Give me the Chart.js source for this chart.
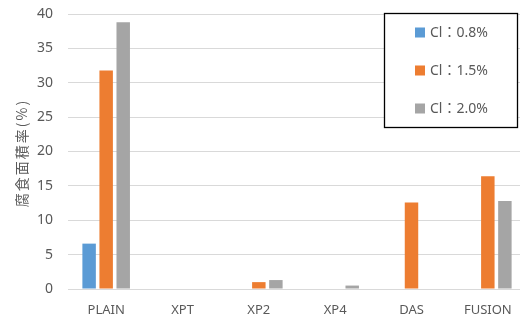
<!DOCTYPE html>
<html>
<head>
<meta charset="utf-8">
<script src="https://cdn.jsdelivr.net/npm/chart.js@4/dist/chart.umd.min.js"></script>
<style>
  html, body { margin: 0; padding: 0; background: #fff; overflow: hidden; }
  #wrap { position: relative; width: 526px; height: 320px; }
</style>
</head>
<body>
<div id="wrap"><canvas id="c"></canvas></div>
<script>
// Corrosion area ratio by coating type and chloride content
const categories = ['PLAIN', 'XPT', 'XP2', 'XP4', 'DAS', 'FUSION'];
const seriesNames = ['Cl：0.8%', 'Cl：1.5%', 'Cl：2.0%'];
const cl08 = [6.6, 0, 0, 0, 0, 0];
const cl15 = [31.8, 0, 1.0, 0, 12.6, 16.4];
const cl20 = [38.8, 0, 1.3, 0.5, 0, 12.8];
const yTicks = [0, 5, 10, 15, 20, 25, 30, 35, 40];
const yTitle = '腐食面積率(%)';

const colors = ['#5B9BD5', '#ED7D31', '#A5A5A5'];
const textColor = '#595959';
const fontFamily = '"Noto Sans", "Noto Sans CJK JP", sans-serif';

// Boxed legend drawn inside the plot area, top right, plus the spaced y-axis title
const boxLegend = {
  id: 'boxLegend',
  afterDraw(chart) {
    const ctx = chart.ctx;
    const area = chart.chartArea;
    // y-axis title, rotated, with a little letter spacing
    ctx.save();
    ctx.translate(22, 153);
    ctx.rotate(-Math.PI / 2);
    ctx.font = '14px "Noto Sans CJK JP", sans-serif';
    ctx.letterSpacing = '2px';
    ctx.fillStyle = textColor;
    ctx.textAlign = 'center';
    ctx.textBaseline = 'middle';
    ctx.fillText(yTitle, 0, 0);
    ctx.restore();

    const x = 384.5, y = 13.5, w = 133, h = 114;
    ctx.save();
    ctx.fillStyle = '#fff';
    ctx.fillRect(x, y, w, h);
    ctx.strokeStyle = '#000';
    ctx.lineWidth = 1.3;
    ctx.strokeRect(x, y, w, h);
    ctx.font = '14px ' + fontFamily;
    ctx.textBaseline = 'middle';
    ctx.textAlign = 'left';
    const rows = [32.5, 70.5, 108.5];
    chart.data.datasets.forEach((ds, i) => {
      ctx.fillStyle = ds.backgroundColor;
      ctx.fillRect(415, rows[i] - 5, 10, 10);
      ctx.fillStyle = textColor;
      ctx.fillText(ds.label, 430, rows[i] + 1);
    });
    ctx.restore();
  }
};

new Chart(document.getElementById('c'), {
  type: 'bar',
  data: {
    labels: categories,
    datasets: [
      { label: seriesNames[0], data: cl08, backgroundColor: colors[0] },
      { label: seriesNames[1], data: cl15, backgroundColor: colors[1] },
      { label: seriesNames[2], data: cl20, backgroundColor: colors[2] }
    ]
  },
  options: {
    responsive: true,
    maintainAspectRatio: false,
    animation: false,
    layout: { padding: { top: 14, right: 0, left: 0, bottom: 0 } },
    datasets: { bar: { categoryPercentage: 0.67, barPercentage: 0.79, borderWidth: 0 } },
    plugins: { legend: { display: false }, tooltip: { enabled: false } },
    scales: {
      x: {
        grid: { display: false, drawTicks: false },
        border: { display: false },
        ticks: { color: textColor, font: { family: fontFamily, size: 13 }, padding: 13, maxRotation: 0 },
        afterFit(scale) { scale.height = 31; }
      },
      y: {
        min: 0, max: 40,
        afterBuildTicks(scale) { scale.ticks = yTicks.map(v => ({ value: v })); },
        grid: { color: '#D9D9D9', lineWidth: 1, drawTicks: false },
        border: { display: false },
        ticks: { color: textColor, font: { family: fontFamily, size: 14 }, padding: 15 },
        afterFit(scale) {
          scale.width = 68;
          scale.paddingTop = 0;
          scale.paddingBottom = 0;
        }
      }
    }
  },
  plugins: [boxLegend]
});
</script>
</body>
</html>
